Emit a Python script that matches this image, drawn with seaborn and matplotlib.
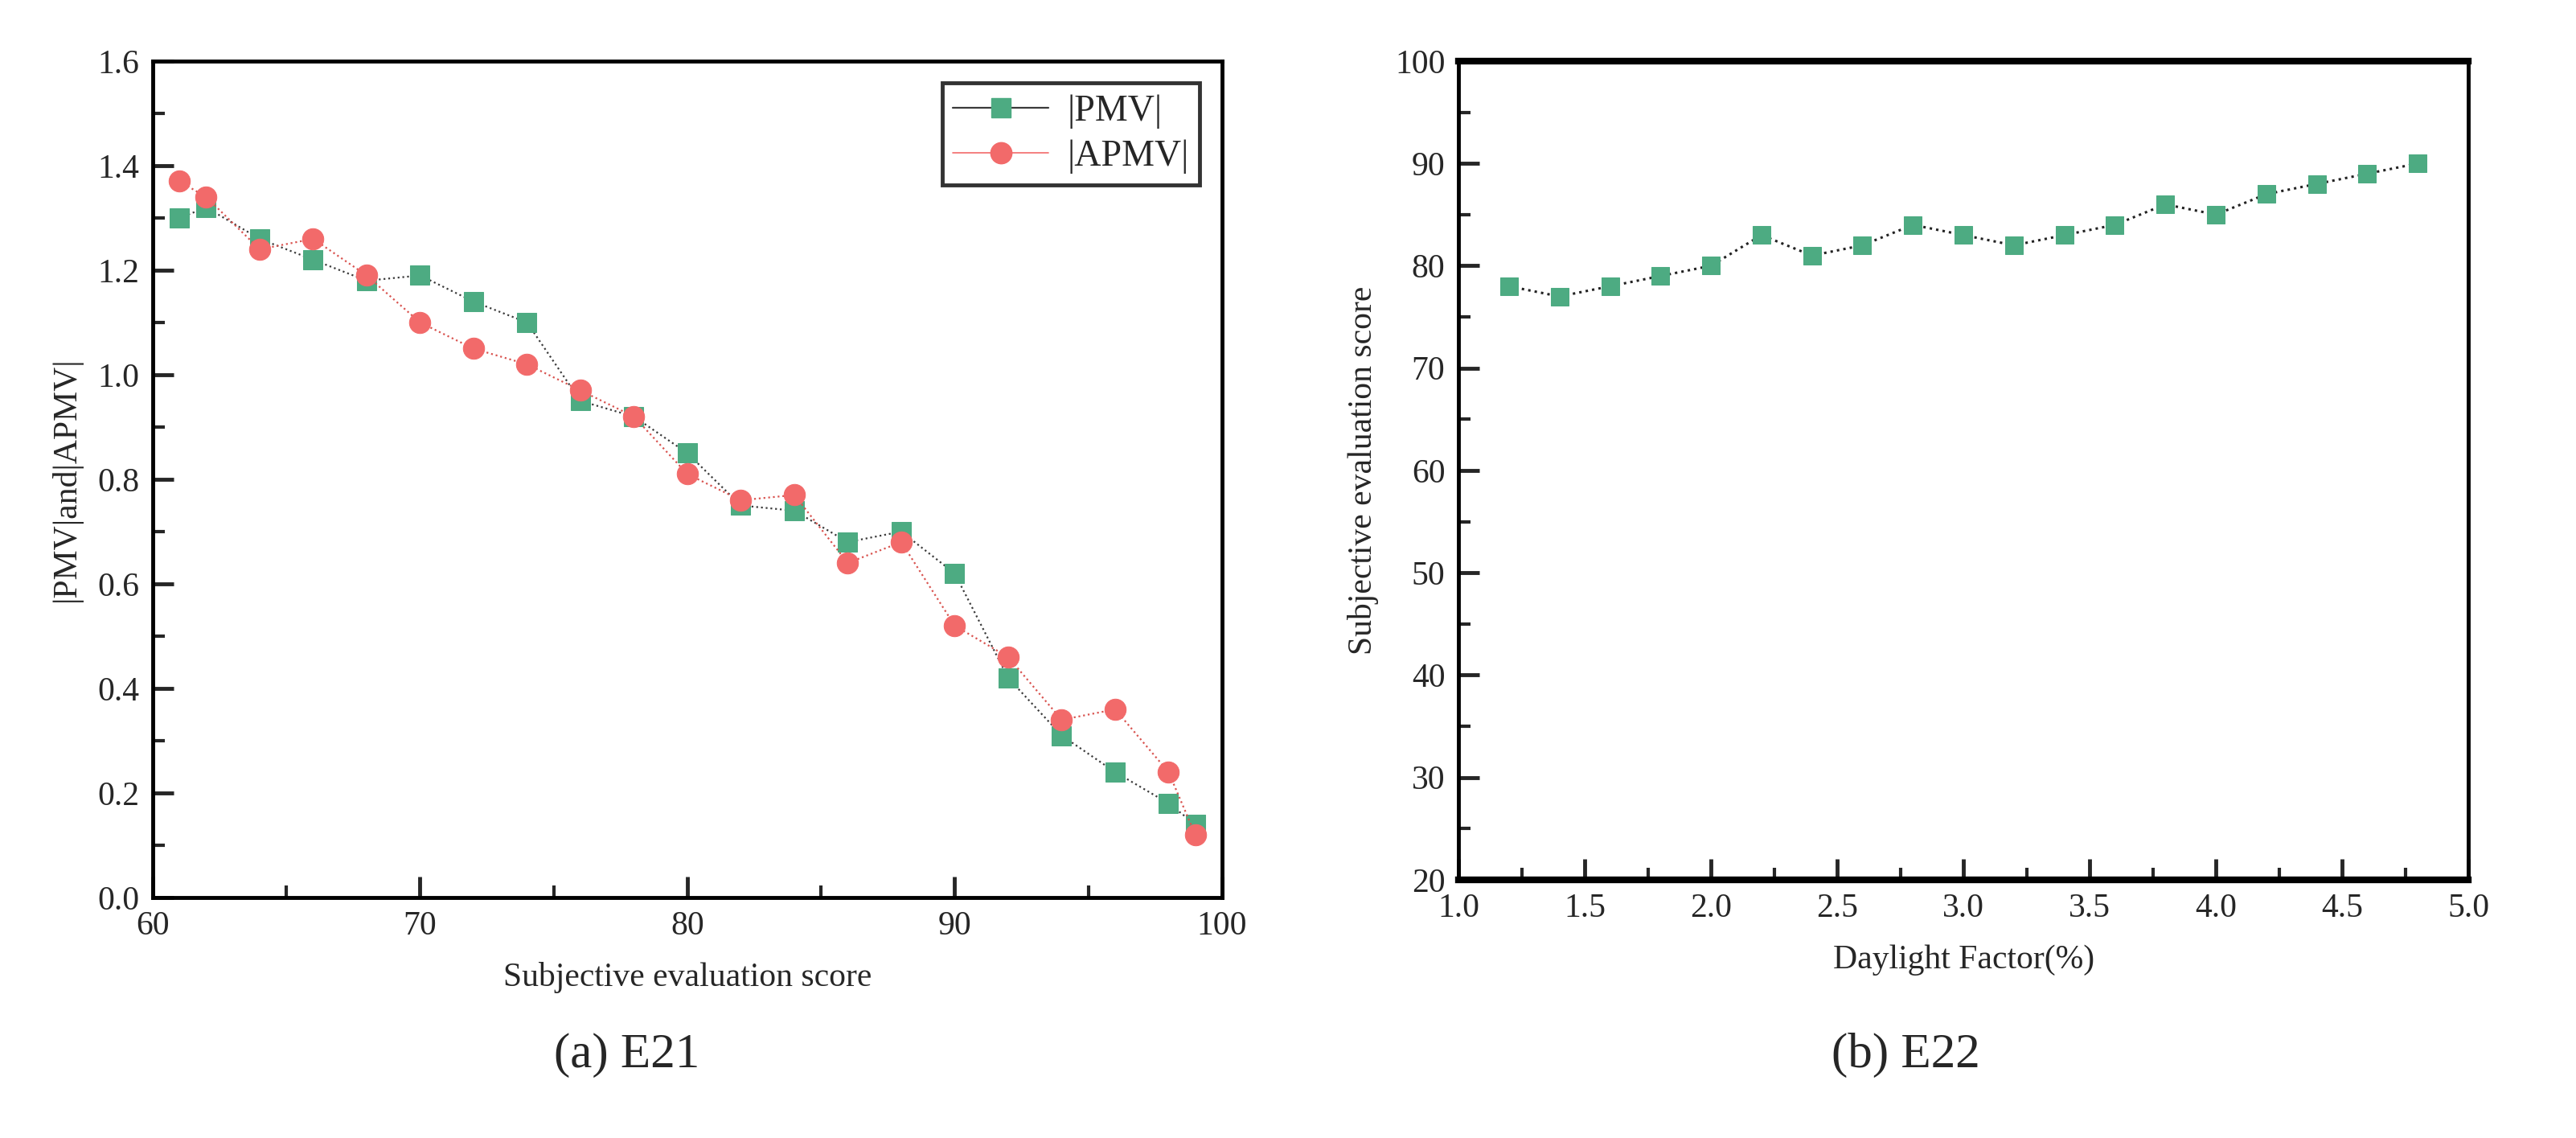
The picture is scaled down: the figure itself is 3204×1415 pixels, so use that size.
import matplotlib
matplotlib.use("Agg")
import matplotlib.pyplot as plt
from matplotlib.lines import Line2D
from matplotlib.ticker import MultipleLocator, FormatStrFormatter
import seaborn as sns
import pandas as pd

# ---- data ----
score = [61, 62, 64, 66, 68, 70, 72, 74, 76, 78, 80, 82, 84, 86, 88, 90, 92, 94, 96, 98, 99]
pmv = [1.30, 1.32, 1.26, 1.22, 1.18, 1.19, 1.14, 1.10, 0.95, 0.92, 0.85, 0.75, 0.74,
       0.68, 0.70, 0.62, 0.42, 0.31, 0.24, 0.18, 0.14]
apmv = [1.37, 1.34, 1.24, 1.26, 1.19, 1.10, 1.05, 1.02, 0.97, 0.92, 0.81, 0.76, 0.77,
        0.64, 0.68, 0.52, 0.46, 0.34, 0.36, 0.24, 0.12]

daylight = [1.2, 1.4, 1.6, 1.8, 2.0, 2.2, 2.4, 2.6, 2.8, 3.0, 3.2, 3.4, 3.6, 3.8,
            4.0, 4.2, 4.4, 4.6, 4.8]
subj = [78, 77, 78, 79, 80, 83, 81, 82, 84, 83, 82, 83, 84, 86, 85, 87, 88, 89, 90]

GREEN = "#4dab82"
RED = "#f26a6a"

sns.set_theme(style="white")
plt.rcParams["font.family"] = ["Liberation Serif", "DejaVu Serif"]

fig = plt.figure(figsize=(32.04, 14.15), dpi=100)
ax1 = fig.add_axes([0.0593, 0.2113, 0.4151, 0.7350])
ax2 = fig.add_axes([0.5662, 0.2269, 0.3920, 0.7194])

df1 = pd.DataFrame({"score": score, "pmv": pmv, "apmv": apmv})
df2 = pd.DataFrame({"df": daylight, "subj": subj})

sns.lineplot(data=df1, x="score", y="pmv", ax=ax1, color="#3a3a3a", linestyle=":",
             linewidth=1.6, marker="s", markersize=17, markerfacecolor=GREEN,
             markeredgecolor=GREEN, errorbar=None)
sns.lineplot(data=df1, x="score", y="apmv", ax=ax1, color="#d9534f", linestyle=":",
             linewidth=1.6, marker="o", markersize=19, markerfacecolor=RED,
             markeredgecolor=RED, errorbar=None)
sns.lineplot(data=df2, x="df", y="subj", ax=ax2, color="#222222", linestyle=":",
             linewidth=2.2, marker="s", markersize=16, markerfacecolor=GREEN,
             markeredgecolor=GREEN, errorbar=None)

TICK_FS = 30
LABEL_FS = 30

def style_axes(ax, thick_tb=False):
    for name, sp in ax.spines.items():
        sp.set_visible(True)
        sp.set_color("black")
        sp.set_linewidth(3.5)
    if thick_tb:
        ax.spines["top"].set_linewidth(6)
        ax.spines["bottom"].set_linewidth(6)
    ax.tick_params(which="major", direction="in", length=19, width=3.5,
                   labelsize=TICK_FS, pad=12, bottom=True, left=True,
                   top=False, right=False)
    ax.tick_params(which="minor", direction="in", length=11, width=3,
                   bottom=True, left=True, top=False, right=False)

ax1.set_xlim(60, 100)
ax1.set_ylim(0, 1.6)
ax1.xaxis.set_major_locator(MultipleLocator(10))
ax1.xaxis.set_minor_locator(MultipleLocator(5))
ax1.yaxis.set_major_locator(MultipleLocator(0.2))
ax1.yaxis.set_minor_locator(MultipleLocator(0.1))
ax1.yaxis.set_major_formatter(FormatStrFormatter("%.1f"))
style_axes(ax1)
ax1.set_xlabel("Subjective evaluation score", fontsize=LABEL_FS, labelpad=18)
ax1.set_ylabel("|PMV|and|APMV|", fontsize=LABEL_FS, labelpad=14)

handles = [
    Line2D([0], [0], color="#3a3a3a", linewidth=1.6, marker="s", markersize=17,
           markerfacecolor=GREEN, markeredgecolor=GREEN),
    Line2D([0], [0], color=RED, linewidth=1.2, marker="o", markersize=19,
           markerfacecolor=RED, markeredgecolor=RED),
]
leg = ax1.legend(handles, ["|PMV|", "|APMV|"], loc="upper right", fontsize=33,
                 frameon=True, fancybox=False, edgecolor="black",
                 borderaxespad=0.6, handlelength=2.6, borderpad=0.3,
                 labelspacing=0.3, handletextpad=0.5)
leg.get_frame().set_linewidth(3.5)

ax2.set_xlim(1.0, 5.0)
ax2.set_ylim(20, 100)
ax2.xaxis.set_major_locator(MultipleLocator(0.5))
ax2.xaxis.set_minor_locator(MultipleLocator(0.25))
ax2.yaxis.set_major_locator(MultipleLocator(10))
ax2.yaxis.set_minor_locator(MultipleLocator(5))
ax2.xaxis.set_major_formatter(FormatStrFormatter("%.1f"))
style_axes(ax2, thick_tb=True)
ax2.set_xlabel("Daylight Factor(%)", fontsize=LABEL_FS, labelpad=18)
ax2.set_ylabel("Subjective evaluation score", fontsize=LABEL_FS, labelpad=14)

fig.text(0.2434, 0.073, "(a) E21", fontsize=44, ha="center", va="center")
fig.text(0.7397, 0.073, "(b) E22", fontsize=44, ha="center", va="center")

fig.savefig("out.png", dpi=100, facecolor="white")
